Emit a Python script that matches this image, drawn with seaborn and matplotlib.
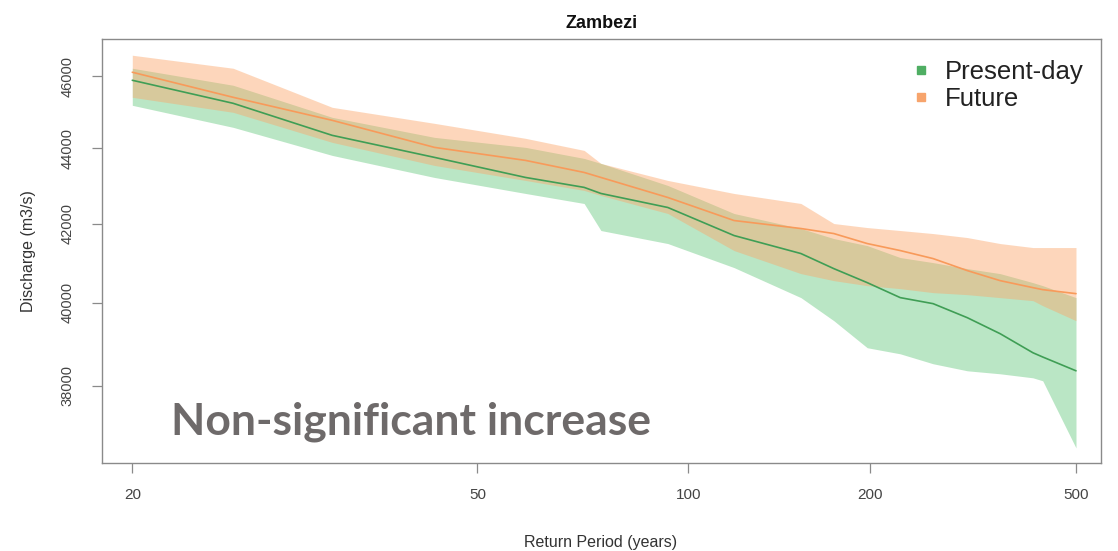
import numpy as np
import pandas as pd
import matplotlib
matplotlib.use("Agg")
import matplotlib.pyplot as plt
from matplotlib.lines import Line2D
from matplotlib.ticker import FixedLocator, FixedFormatter, NullLocator
import seaborn as sns

# Return periods (years)
return_period = [20, 25.5, 33, 44, 58, 70, 74, 93, 118, 152, 173, 198, 227, 261, 303, 351, 408, 427, 500]

# Present-day discharge (m3/s): median and uncertainty band
present_median = [45886, 45238, 44352, 43753, 43214, 42950, 42789, 42420, 41692, 41231, 40849, 40497,
                  40124, 39975, 39630, 39240, 38781, 38680, 38352]
present_lower = [45182, 44572, 43806, 43214, 42789, 42525, 41821, 41486, 40875, 40124, 39557, 38902,
                 38756, 38519, 38352, 38281, 38186, 38116, 36569]
present_upper = [46228, 45745, 44848, 44297, 44024, 43725, 43590, 43001, 42263, 41873, 41614, 41434,
                 41129, 41001, 40849, 40723, 40497, 40422, 40124]

# Future discharge (m3/s): median and uncertainty band
future_median = [46114, 45406, 44765, 44024, 43671, 43348, 43214, 42683, 42080, 41873, 41743, 41486,
                 41307, 41103, 40799, 40547, 40372, 40322, 40223]
future_lower = [45406, 44987, 44160, 43536, 43134, 42869, 42736, 42263, 41307, 40723, 40547, 40422,
                40347, 40248, 40198, 40124, 40049, 39925, 39557]
future_upper = [46601, 46228, 45126, 44682, 44270, 43942, 43590, 43134, 42789, 42525, 42002, 41898,
                41821, 41743, 41640, 41486, 41384, 41384, 41384]

x_ticks = [20, 50, 100, 200, 500]
x_tick_labels = ["20", "50", "100", "200", "500"]
y_ticks = [38000, 40000, 42000, 44000, 46000]
y_tick_labels = ["38000", "40000", "42000", "44000", "46000"]

series_names = ["Present-day", "Future"]
line_colors = {"Present-day": "#3f9e55", "Future": "#f89a5a"}
band_colors = {"Present-day": "#66c97f", "Future": "#fca66a"}
legend_colors = {"Present-day": "#4fae63", "Future": "#f7a46c"}

sns.set_theme(style="white")
plt.rcParams["font.family"] = ["Liberation Sans", "DejaVu Sans"]

fig = plt.figure(figsize=(11.18, 5.51), dpi=100)
W, H = 1118, 551
ax = fig.add_axes([102 / W, 1 - 463 / H, (1101 - 102) / W, (463 - 39) / H])


def fwd(t):
    t = np.asarray(t, dtype=float)
    with np.errstate(divide="ignore", invalid="ignore"):
        return np.log10(np.log10(t))


def inv(v):
    v = np.asarray(v, dtype=float)
    return 10 ** (10 ** v)


ax.set_xscale("function", functions=(fwd, inv))
ax.set_yscale("log")

# Uncertainty bands
bands = {
    "Present-day": (present_lower, present_upper),
    "Future": (future_lower, future_upper),
}
for name in series_names:
    lo, hi = bands[name]
    ax.fill_between(return_period, lo, hi, color=band_colors[name], alpha=0.45, linewidth=0)

# Median lines
df = pd.DataFrame({
    "Return Period": return_period * 2,
    "Discharge": present_median + future_median,
    "Scenario": ["Present-day"] * len(return_period) + ["Future"] * len(return_period),
})
sns.lineplot(data=df, x="Return Period", y="Discharge", hue="Scenario",
             palette=line_colors, linewidth=1.2, legend=False, ax=ax, zorder=3)

ax.set_xlim(18.66, 564.5)
ax.set_ylim(36230, 47070)

ax.xaxis.set_major_locator(FixedLocator(x_ticks))
ax.xaxis.set_major_formatter(FixedFormatter(x_tick_labels))
ax.xaxis.set_minor_locator(NullLocator())
ax.yaxis.set_major_locator(FixedLocator(y_ticks))
ax.yaxis.set_major_formatter(FixedFormatter(y_tick_labels))
ax.yaxis.set_minor_locator(NullLocator())

for s in ax.spines.values():
    s.set_color("#8a8a8a")
    s.set_linewidth(1.0)

ax.tick_params(axis="both", which="major", direction="out", length=7, width=0.9,
               color="#8a8a8a", labelcolor="#444444", bottom=True, left=True)
ax.tick_params(axis="x", labelsize=11, pad=11)
ax.tick_params(axis="y", labelsize=10.5, pad=13, labelrotation=90)
for lab in ax.get_yticklabels():
    lab.set_va("center")

ax.set_xlabel("Return Period (years)", fontsize=11.5, color="#333333", va="center")
ax.xaxis.set_label_coords(601 / W, 1 - 542 / H, transform=fig.transFigure)
ax.set_ylabel("Discharge (m3/s)", fontsize=11.5, color="#333333", va="center")
ax.yaxis.set_label_coords(28.5 / W, 1 - 251 / H, transform=fig.transFigure)

ax.set_title("Zambezi", fontsize=13, fontweight="bold", color="#111111", pad=8)

handles = [Line2D([], [], marker="s", linestyle="", markersize=6,
                  color=legend_colors[n]) for n in series_names]
ax.legend(handles, series_names, loc="upper left", bbox_to_anchor=(911 / W, 1 - 60 / H),
          bbox_transform=fig.transFigure, frameon=False, fontsize=18.5,
          handlelength=0.8, handletextpad=0.5, labelspacing=0.12,
          borderpad=0, borderaxespad=0, labelcolor="#222222")

fig.text(171 / W, 1 - 435 / H, "Non-significant increase", fontsize=32,
         fontweight="bold", color="#6e6a6a", family=["Lato", "DejaVu Sans"],
         ha="left", va="baseline")

fig.savefig("out.png", dpi=100, facecolor="white")
